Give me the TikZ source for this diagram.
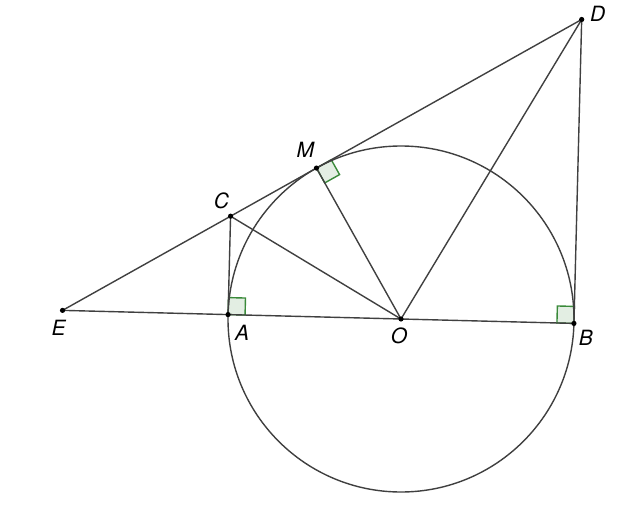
\documentclass[tikz,border=0pt]{standalone}
\usepackage{fontspec}
\setmainfont{TeX Gyre Heros}
\usetikzlibrary{calc}
\definecolor{linegray}{HTML}{404040}
\definecolor{markgreen}{HTML}{3A8A3A}
\definecolor{markfill}{HTML}{E3EEE3}
\tikzset{
  geo/.style={draw=linegray, line width=0.7pt},
  rightmark/.style={draw=markgreen, fill=markfill, line width=0.7pt},
  pt/.style={circle, fill=black, inner sep=0pt, minimum size=2.6pt},
  lbl/.style={font=\fontsize{10.5}{12}\selectfont\itshape, text=black, inner sep=0pt}
}
\begin{document}
\begin{tikzpicture}[x=0.5pt,y=0.5pt]
\useasboundingbox (0,0) rectangle (622,505);
% construction
\coordinate (O) at (401,186);
\coordinate (A) at ($(O)+(178.54:173)$);
\coordinate (B) at ($(O)+(-1.46:173)$);
\coordinate (M) at ($(O)+(119.26:173)$);
\coordinate (C) at ($(O)+(148.9:199.04)$);
\coordinate (D) at ($(O)+(58.9:349.81)$);
\coordinate (E) at ($(O)+(178.54:338.6)$);
% right-angle markers
\path[rightmark, shift={(A)}, rotate=-1.46] (0,0) rectangle (17,17);
\path[rightmark, shift={(B)}, rotate=-1.46] (0,0) rectangle (-17,17);
\path[rightmark, shift={(M)}, rotate=29.26] (0,0) rectangle (17,-17);
% circle and lines
\draw[geo] (O) circle[radius=173];
\draw[geo] (E) -- (D);
\draw[geo] (E) -- (B);
\draw[geo] (A) -- (C);
\draw[geo] (B) -- (D);
\draw[geo] (C) -- (O);
\draw[geo] (M) -- (O);
\draw[geo] (D) -- (O);
% points
\foreach \p in {A,B,C,D,E,M,O} \node[pt] (p\p) at (\p) {};
% labels
\node[lbl] (lE) at ($(E)+(-4,-17)$) {E};
\node[lbl] (lA) at ($(A)+(14,-18)$) {A};
\node[lbl] (lO) at ($(O)+(-2,-17)$) {O};
\node[lbl] (lB) at ($(B)+(12,-14)$) {B};
\node[lbl] (lD) at ($(D)+(16,6)$) {D};
\node[lbl] (lM) at ($(M)+(-11,18)$) {M};
\node[lbl] (lC) at ($(C)+(-9,15)$) {C};
\end{tikzpicture}
\end{document}
